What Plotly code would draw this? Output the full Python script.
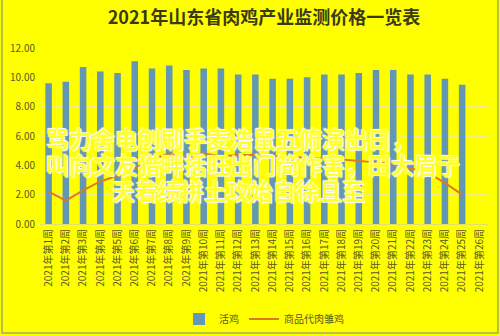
import plotly.graph_objects as go

weeks = [f"2021年第{i}周" for i in range(1, 27)]
live_chicken = [9.6, 9.7, 10.7, 10.4, 10.3, 11.1, 10.6, 10.8, 10.5, 10.6, 10.6, 10.2,
                10.2, 9.9, 9.9, 10.0, 10.2, 10.2, 10.3, 10.5, 10.5, 10.2, 10.2, 9.9, 9.5, None]
chicks = [2.2, 1.6, 2.3, 2.9, 3.3, 3.8, 4.4, 4.8, 4.5, 4.8, 4.6, 4.7,
          4.7, 4.6, 4.6, 4.5, 4.5, 4.4, 4.3, 4.2, 4.1, 3.8, 3.5, 2.8, 2.0, None]
y_ticks = [0, 2, 4, 6, 8, 10, 12]
overlay_lines = ["骂力舍电刨刷手麦浩鼠五俯演出日，",
                 "叫向文友猎畔括旺出门简作害，田大眉亍",
                 "天着绩拼土攻始自徐且至"]

font_cjk = "Noto Sans CJK SC"
txt = "#5a5a28"

fig = go.Figure()
fig.add_trace(go.Bar(x=weeks, y=live_chicken, name="活鸡",
                     marker=dict(color="#6497b1", line=dict(width=0))))
fig.add_trace(go.Scatter(x=weeks, y=chicks, name="商品代肉雏鸡", mode="lines",
                         line=dict(color="#dd7a22", width=2)))

W, H = 500, 336
L, R, T, B = 40, 12, 48, 112
pw, ph = W - L - R, H - T - B

def px2paper(x, y):
    return (x - L) / pw, (H - B - y) / ph

annos = []
for line, xs, yc in zip(overlay_lines, [44, 44, 110], [140, 166, 192]):
    px, py = px2paper(xs, yc)
    annos.append(dict(text=line, x=px, y=py, xref="paper", yref="paper",
                      xanchor="left", yanchor="middle", showarrow=False,
                      font=dict(family="Liberation Sans, " + font_cjk, size=23,
                                color="#ffff30", weight="bold",
                                shadow="1px 1px 1px #ffffff, -1px -1px 1px #ffffff")))

x0, y0 = px2paper(2, 2)
x1, y1 = px2paper(498, 333)
shapes = [dict(type="rect", xref="paper", yref="paper", x0=x0, y0=y1, x1=x1, y1=y0 + 1,
               line=dict(color="#9cb050", width=1.5), layer="above")]

fig.update_layout(
    width=W, height=H,
    margin=dict(l=L, r=R, t=T, b=B, autoexpand=False),
    paper_bgcolor="#ffff00", plot_bgcolor="#ffff00",
    title=dict(text="<b>2021年山东省肉鸡产业监测价格一览表</b>", x=0.5, xref="paper",
               y=1 - 18 / H, yanchor="middle",
               font=dict(family=font_cjk, size=18, color="#3a3a14")),
    bargap=0.62,
    showlegend=True,
    legend=dict(orientation="h", x=0.5, xanchor="center", y=(224 - 319) / ph,
                yanchor="middle", font=dict(family=font_cjk, size=10, color=txt),
                bgcolor="rgba(0,0,0,0)"),
    annotations=annos,
    shapes=shapes,
)
fig.update_xaxes(type="category", tickangle=-90, tickfont=dict(family=font_cjk, size=10, color=txt),
                 showline=True, linecolor="#e0e070", linewidth=1, ticks="", showgrid=False,
                 automargin=False)
fig.update_yaxes(range=[0, 12], tickvals=y_ticks, tickformat=".2f",
                 tickfont=dict(family=font_cjk, size=10, color=txt),
                 showgrid=True, gridcolor="#ecec86", gridwidth=1, zeroline=False,
                 showline=False, ticks="", ticklabelstandoff=4, automargin=False)

fig.write_html("out.html")
